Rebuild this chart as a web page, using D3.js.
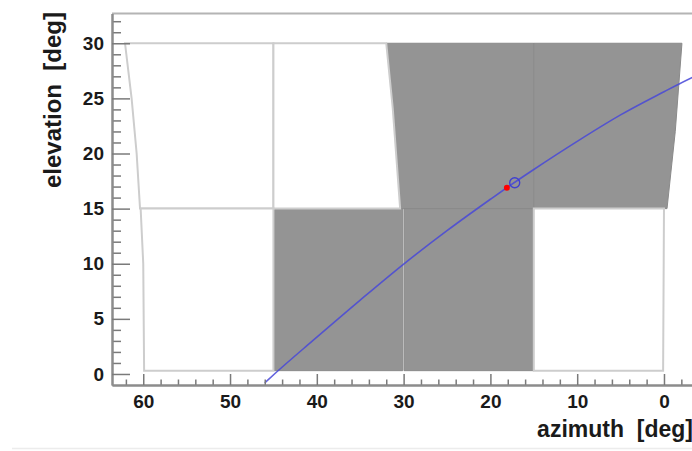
<!DOCTYPE html>
<html>
<head>
<meta charset="utf-8">
<script src="https://cdn.jsdelivr.net/npm/d3@7"></script>
<style>
  body { margin: 0; background: #fff; }
  text { font-family: "Liberation Sans", Arial, sans-serif; font-weight: bold; }
</style>
</head>
<body>
<div class="canvas"></div>
<script>
const w = 692;
const h = 451;

// tick values
const yMajor = [0, 5, 10, 15, 20, 25, 30];
const yMinor = [1, 2, 3, 4, 6, 7, 8, 9, 11, 12, 13, 14, 16, 17, 18, 19, 21, 22, 23, 24, 26, 27, 28, 29, 31, 32];
const xMajor = [60, 50, 40, 30, 20, 10, 0];
const xMinor = [62, 58, 56, 54, 52, 48, 46, 44, 42, 38, 36, 34, 32, 28, 26, 24, 22, 18, 16, 14, 12, 8, 6, 4, 2, -2, -4];

// cells: vertices as [azimuth, elevation]
const cells = [
  [[62.1, 30], [45, 30], [45, 15], [60.37, 15], [60.76, 20], [61.34, 25]],
  [[45, 30], [32.0, 30], [31.25, 24.1], [30.4, 15], [45, 15]],
  [[60.3, 15], [45, 15], [45, 0.3], [59.9, 0.3], [60.0, 10]],
  [[15, 15], [0, 15], [0.1, 0.3], [15, 0.3]],
  [[32.0, 30], [15, 30], [15, 15], [30.4, 15], [31.25, 24.1]],
  [[15, 30], [-2.07, 30], [-1.3, 22], [-0.35, 15], [15, 15]],
  [[45, 15], [30.1, 15], [30.1, 0.3], [45, 0.3]],
  [[29.95, 15], [15, 15], [15, 0.3], [29.95, 0.3]]
];
const cellFilled = [false, false, false, false, true, true, true, true];

// trajectory
const trackAz = [46.0, 44.6, 40.5, 35.0, 30.1, 25.0, 20.0, 18.2, 15.0, 10.0, 5.0, 0.0, -1.4, -3.2, -4.2];
const trackEl = [-0.8, 0.2, 3.0, 6.7, 9.9, 13.0, 15.85, 16.85, 18.55, 21.1, 23.5, 25.6, 26.17, 26.87, 27.25];

// markers
const redPoint = [18.1, 16.9];
const bluePoint = [17.2, 17.35];

const svg = d3.select(".canvas").append("svg").attr("width", w).attr("height", h);

// frame edges
const fLeft = 112, fRight = 700, fTop = 13.5, fBottom = 385;

const x = d3.scaleLinear().domain([63.6, -4.15]).range([fLeft, fRight]);
const y = d3.scaleLinear().domain([-1, 32.7]).range([fBottom, fTop]);

svg.append("clipPath").attr("id", "frame")
  .append("rect").attr("x", fLeft).attr("y", fTop).attr("width", fRight - fLeft).attr("height", fBottom - fTop);

const plot = svg.append("g").attr("clip-path", "url(#frame)");

const poly = d3.line().x(d => x(d[0])).y(d => y(d[1]));

// filled cells first, then the white ones with light outlines
const order = d3.range(cells.length).sort((a, b) => cellFilled[b] - cellFilled[a]);
plot.selectAll("path.cell")
  .data(order)
  .enter()
  .append("path")
  .attr("class", "cell")
  .attr("d", i => poly(cells[i]) + "Z")
  .attr("fill", i => cellFilled[i] ? "#949494" : "#fff")
  .attr("stroke", i => cellFilled[i] ? "#8a8a8a" : "#cdcdcd")
  .attr("stroke-width", i => cellFilled[i] ? 1 : 2);

// track line
const track = trackAz.map((a, i) => [a, trackEl[i]]);
plot.append("path")
  .attr("d", d3.line().x(d => x(d[0])).y(d => y(d[1])).curve(d3.curveMonotoneX)(track))
  .attr("fill", "none")
  .attr("stroke", "#4848d8")
  .attr("stroke-opacity", 0.85)
  .attr("stroke-width", 1.6);

plot.append("circle")
  .attr("cx", x(bluePoint[0])).attr("cy", y(bluePoint[1])).attr("r", 5)
  .attr("fill", "none").attr("stroke", "#4040d0").attr("stroke-width", 1.4);

plot.append("circle")
  .attr("cx", x(redPoint[0])).attr("cy", y(redPoint[1])).attr("r", 3)
  .attr("fill", "#ff0000");

// frame top
svg.append("line")
  .attr("x1", fLeft).attr("x2", fRight).attr("y1", fTop).attr("y2", fTop)
  .attr("stroke", "#b4b4b4").attr("stroke-width", 2);

// axes
const tickColor = "#7a7a7a";

const yAxis = d3.axisLeft(y).tickValues(yMajor).tickSize(-18).tickSizeOuter(0).tickPadding(8);
const yAxisMinor = d3.axisLeft(y).tickValues(yMinor).tickSize(-9).tickSizeOuter(0).tickFormat("");
const xAxis = d3.axisBottom(x).tickValues(xMajor).tickSize(-11).tickSizeOuter(0).tickPadding(10);
const xAxisMinor = d3.axisBottom(x).tickValues(xMinor).tickSize(-5.5).tickSizeOuter(0).tickFormat("");

function styleAxis(g) {
  g.select(".domain").attr("stroke", "#8c8c8c").attr("stroke-width", 2);
  g.selectAll(".tick line").attr("stroke", tickColor).attr("stroke-width", 1.5);
  g.selectAll(".tick text").attr("fill", "#1a1a1a").style("font-size", "19px");
}

svg.append("g").attr("transform", `translate(${fLeft},0)`).call(yAxisMinor).call(styleAxis);
svg.append("g").attr("id", "y-axis").attr("transform", `translate(${fLeft},0)`).call(yAxis).call(styleAxis);
svg.append("g").attr("transform", `translate(0,${fBottom})`).call(xAxisMinor).call(styleAxis);
svg.append("g").attr("id", "x-axis").attr("transform", `translate(0,${fBottom})`).call(xAxis).call(styleAxis);

// axis titles
svg.append("text")
  .attr("transform", "translate(61,12) rotate(-90)")
  .attr("text-anchor", "end")
  .style("font-size", "24px")
  .attr("fill", "#1a1a1a")
  .style("white-space", "pre")
  .text("elevation  [deg]");

svg.append("text")
  .attr("x", 693)
  .attr("y", 437)
  .attr("text-anchor", "end")
  .style("font-size", "23px")
  .attr("fill", "#1a1a1a")
  .style("white-space", "pre")
  .text("azimuth  [deg]");

// faint line at the bottom of the canvas
svg.append("line")
  .attr("x1", 12).attr("x2", w).attr("y1", 448.5).attr("y2", 448.5)
  .attr("stroke", "#ececec").attr("stroke-width", 1.5);
</script>
</body>
</html>
